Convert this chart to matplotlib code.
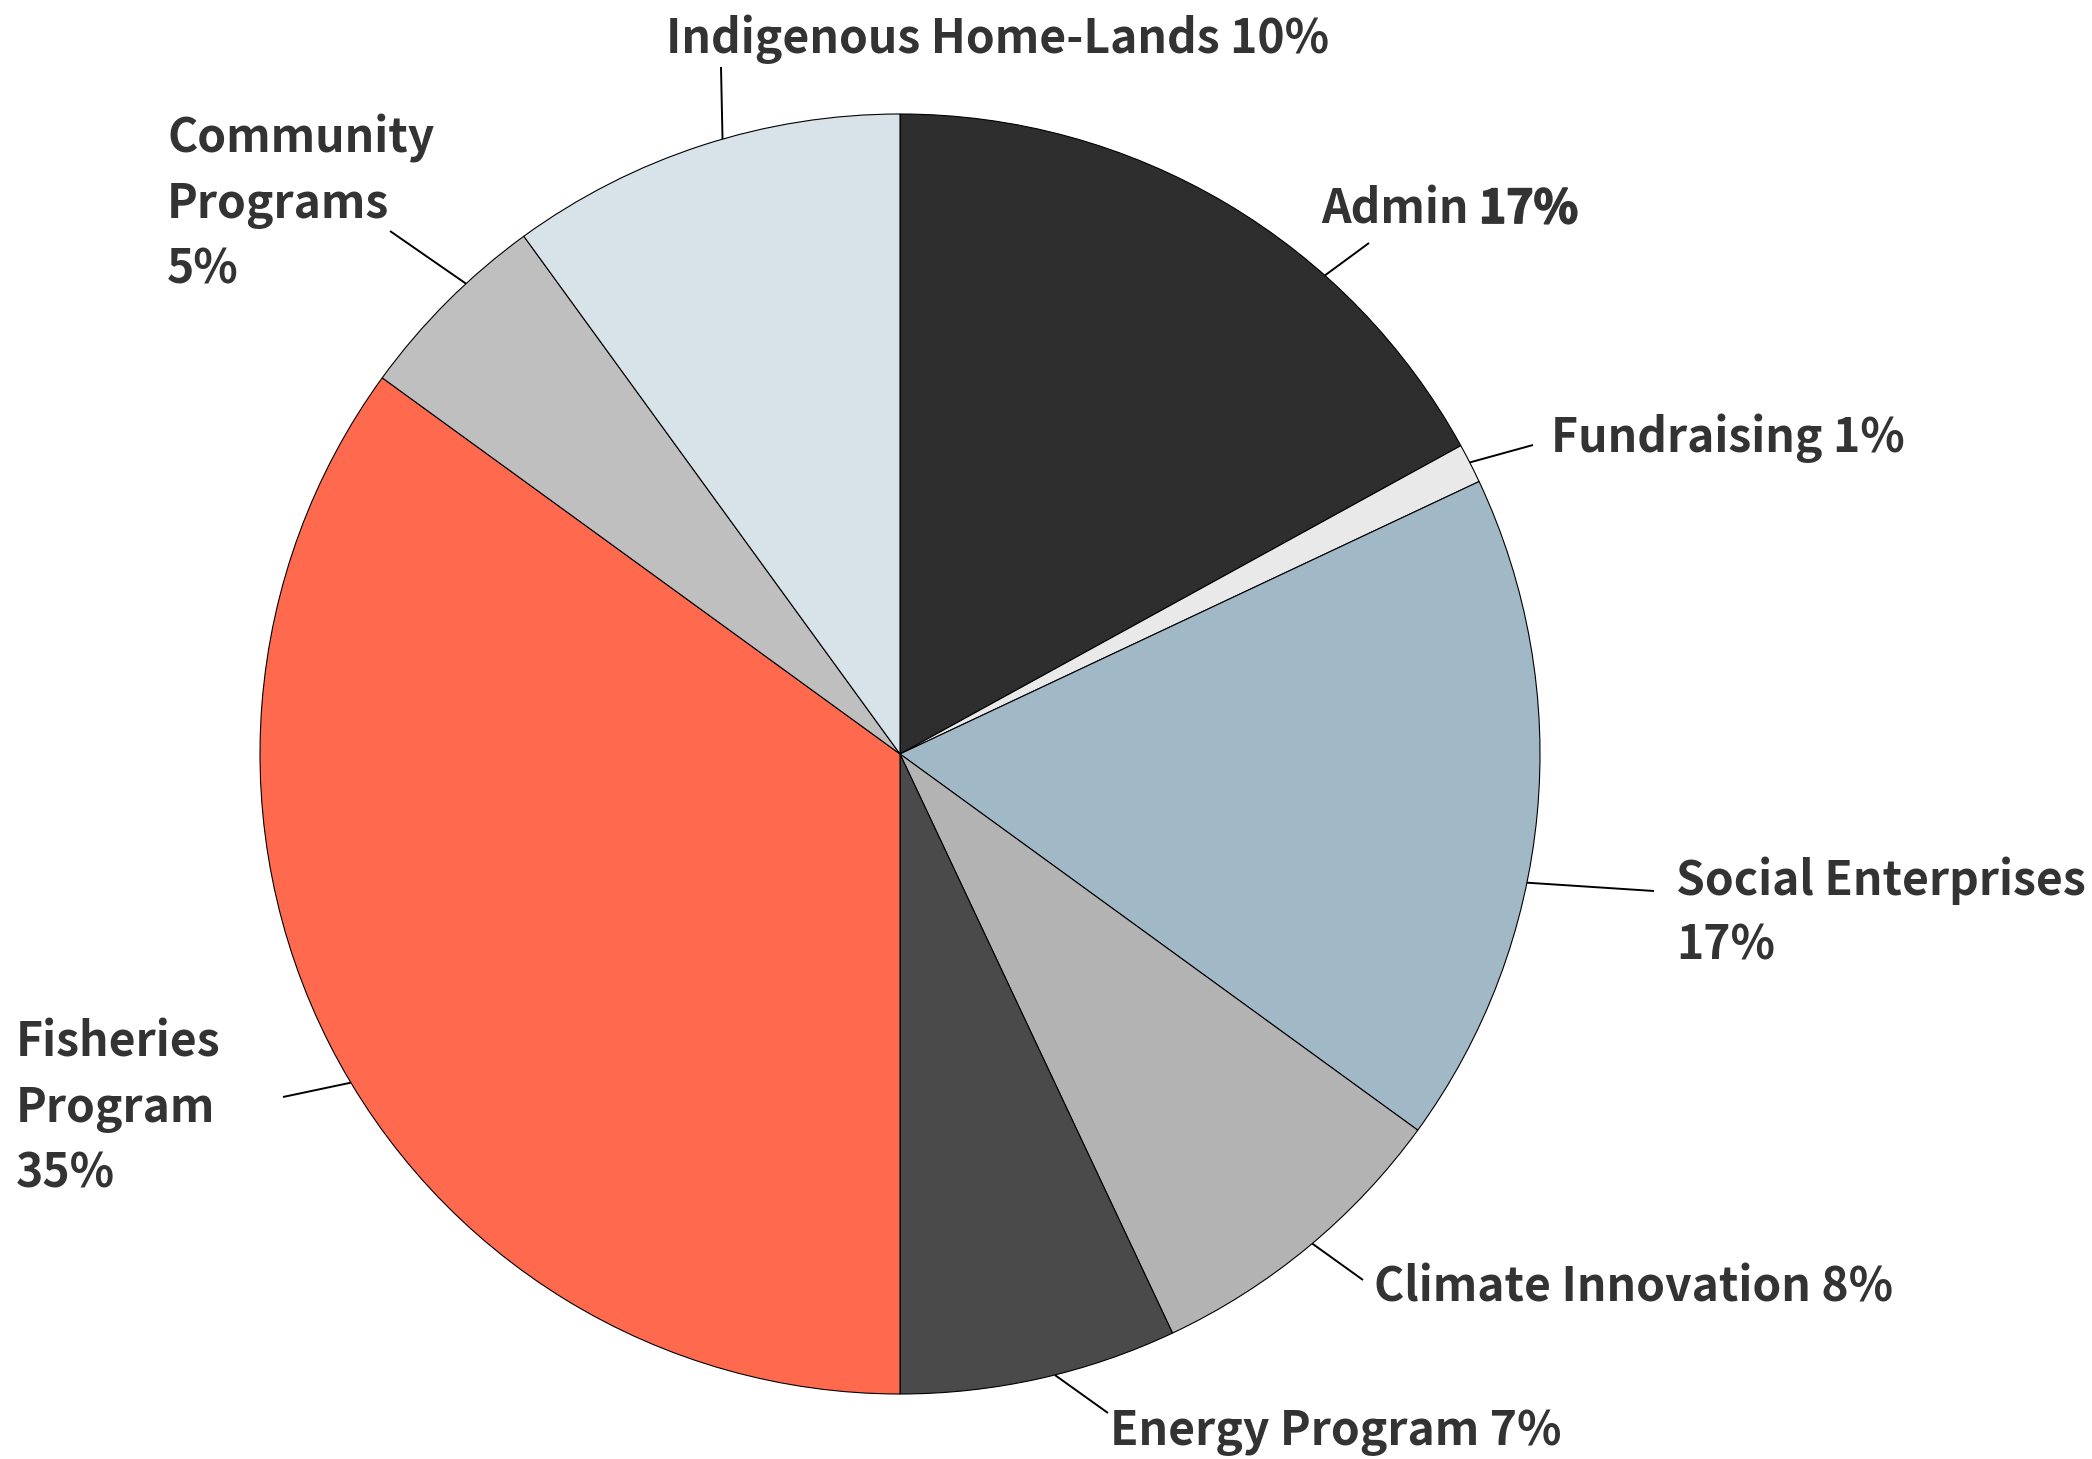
import matplotlib.pyplot as plt
import matplotlib.patheffects as pe
import numpy as np

# budget shares (%), clockwise from 12 o'clock
categories = ['Admin', 'Fundraising', 'Social Enterprises', 'Climate Innovation',
              'Energy Program', 'Fisheries Program', 'Community Programs',
              'Indigenous Home-Lands']
values = [17, 1, 17, 8, 7, 35, 5, 10]
colors = ['#2e2e2e', '#e9e9e9', '#a1b8c7', '#b3b3b3',
          '#4a4a4a', '#ff6a4f', '#bfbfbf', '#d7e2e9']

# label text as shown (line breaks are part of the label)
label_names = ['Admin', 'Fundraising', 'Social Enterprises\n', 'Climate Innovation',
               'Energy Program', 'Fisheries\nProgram\n', 'Community\nPrograms\n',
               'Indigenous Home-Lands']

W, H = 2092, 1459
CX, CY, R = 900, 754, 640          # pixel layout of the pie (y from top)

# layout: where each leader leaves the pie (deg) and where it ends / label sits (px, y from top)
leader_angle = [48.4, 27.1, -11.6, -49.9, -76.0, 210.9, 132.7, 106.1]
leader_end = [(1369, 243), (1533, 445), (1654, 891), (1363, 1280),
              (1108, 1413), (283, 1097), (390, 231), (721, 67)]
# baseline of the last line of each label
label_pos = [(1321, 223), (1551, 452), (1676, 960), (1374, 1301),
             (1110, 1445), (16, 1188), (167, 284), (998, 53)]
label_ha = ['left'] * 7 + ['center']

FONT = ['Noto Sans CJK SC', 'DejaVu Sans']
TXT = '#333333'
FS = 33.3

fig = plt.figure(figsize=(W / 100, H / 100), dpi=100)
ax = fig.add_axes([0, 0, 1, 1])

ax.pie(values, colors=colors, startangle=90, counterclock=False,
       center=(CX, H - CY), radius=R,
       wedgeprops=dict(edgecolor='black', linewidth=0.8))
ax.set_xlim(0, W)
ax.set_ylim(0, H)
ax.set_aspect('equal')
ax.axis('off')

for i, name in enumerate(categories):
    a = np.deg2rad(leader_angle[i])
    x0 = CX + R * np.cos(a)
    y0 = H - CY + R * np.sin(a)
    ex, ey = leader_end[i]
    ax.plot([x0, ex], [y0, H - ey], color='black', lw=1.4, solid_capstyle='butt')

    lx, ly = label_pos[i]
    pct = f'{values[i]}%'
    if name == 'Admin':
        t = ax.text(lx, H - ly, 'Admin ', ha='left', va='baseline',
                    fontsize=FS, color=TXT, family=FONT, weight='bold')
        # the percentage is set heavier than the rest of the label
        ax.annotate(pct, xy=(1, 0), xycoords=t, ha='left', va='bottom',
                    fontsize=FS, color=TXT, family=FONT, weight='bold',
                    path_effects=[pe.withStroke(linewidth=1.3, foreground=TXT)])
    else:
        sep = '' if label_names[i].endswith('\n') else ' '
        ax.text(lx, H - ly, label_names[i] + sep + pct, ha=label_ha[i], va='baseline',
                fontsize=FS, color=TXT, family=FONT, weight='bold',
                linespacing=1.45)

fig.savefig('out.png', dpi=100, facecolor='white')
